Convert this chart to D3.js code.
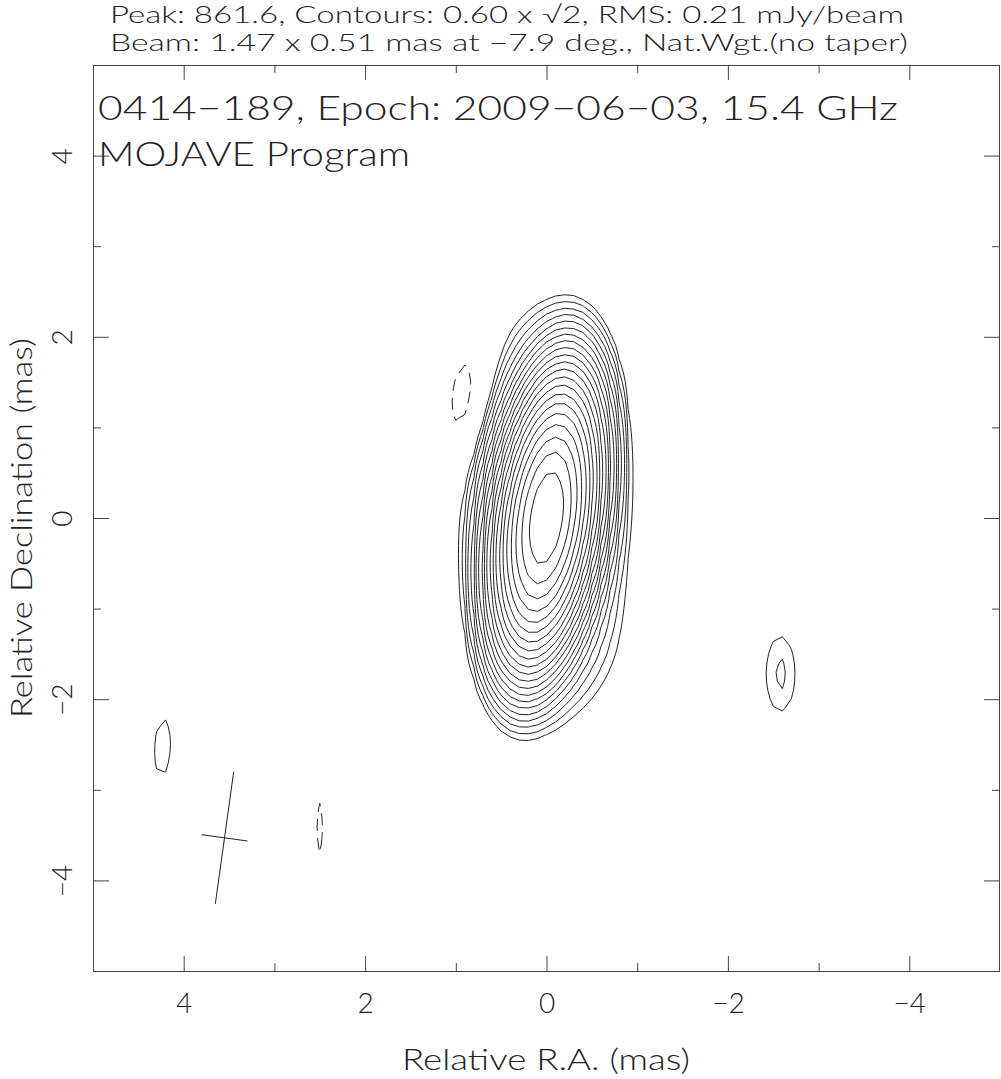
<!DOCTYPE html>
<html><head><meta charset="utf-8">
<script src="https://cdn.jsdelivr.net/npm/d3@7"></script>
<style>
html,body{margin:0;padding:0;background:#fff;}
svg text{font-family:"Lato","Roboto","DejaVu Sans",sans-serif;font-weight:300;fill:#222;}
</style></head><body>
<svg id="chart" width="1001" height="1079"></svg>
<script>
// ---------- data ----------
const raTicksMajor  = [4, 2, 0, -2, -4];
const raTicksMinor  = [3, 1, -1, -3];
const decTicksMajor = [4, 2, 0, -2, -4];
const decTicksMinor = [3, 1, -1, -3];
const peakFlux = 861.6, contourBase = 0.60, contourStep = Math.SQRT2;
const beamMaj = 1.47, beamMin = 0.51, beamPA = -7.9;
const beamCenter = [3.55, -3.53];
// image-plane elliptical Gaussian components (mJy/beam, mas, deg)
const compRA   = [0.00, 0.02, -0.40, 0.10, 4.23, -2.58, 2.50, 0.88];
const compDec  = [0.00, 0.00, -1.60, 1.90, -2.53, -1.72, -3.42, 1.30];
const compPeak = [853, 8.0, 0.35, 0.30, 0.70, 0.915, -0.65, -1.0];
const compMaj  = [1.47, 2.2, 1.3, 1.0, 1.31, 1.06, 1.62, 1.3];
const compMin  = [0.51, 0.95, 0.9, 0.6, 0.40, 0.41, 0.30, 0.48];
const compPA   = [-7.9, 0, -35, -20, -3, 0, 0, -6];
const titleLines = ["Peak: 861.6, Contours: 0.60 x \u221A2, RMS: 0.21 mJy/beam",
                    "Beam: 1.47 x 0.51 mas at \u22127.9 deg., Nat.Wgt.(no taper)"];
const plotLabels = ["0414\u2212189, Epoch: 2009\u221206\u221203, 15.4 GHz", "MOJAVE Program"];
const xTitle = "Relative R.A. (mas)", yTitle = "Relative Declination (mas)";

// ---------- layout ----------
const svg = d3.select("#chart");
svg.append("rect").attr("width",1001).attr("height",1079).attr("fill","#fff");
const x = d3.scaleLinear().domain([5,-5]).range([93,1000]);
const y = d3.scaleLinear().domain([5,-5]).range([65,971]);

// ---------- model grid (0.1 mas map pixels) ----------
const step = 0.1, n = Math.round(10/step)+1;
const values = new Float64Array(n*n);
const rad = Math.PI/180;
for (let j=0;j<n;j++){
  const dec = 5 - j*step;
  for (let i=0;i<n;i++){
    const ra = 5 - i*step;
    let v = 0;
    for (let k=0;k<compRA.length;k++){
      const dE = ra-compRA[k], dN = dec-compDec[k];
      const s = Math.sin(compPA[k]*rad), c = Math.cos(compPA[k]*rad);
      const a = dE*s + dN*c, b = dE*c - dN*s;
      const q = Math.pow(2*a/compMaj[k],2)+Math.pow(2*b/compMin[k],2);
      if (q < 60) v += compPeak[k]*Math.pow(2,-q);
    }
    values[j*n+i] = v;
  }
}
const levels = [];
for (let l=contourBase; l<=peakFlux; l*=contourStep) levels.push(l);

const proj = d3.geoTransform({point(px,py){
  this.stream.point(x(5-(px-0.5)*step), y(5-(py-0.5)*step));
}});
const path = d3.geoPath(proj);
const plot = svg.append("g");
plot.selectAll("path.pos").data(d3.contours().size([n,n]).thresholds(levels)(values))
  .join("path").attr("class","pos").attr("d",path)
  .attr("fill","none").attr("stroke","#222").attr("stroke-width",1).attr("stroke-linejoin","round");
const neg = Array.from(values, v=>-v);
plot.selectAll("path.neg").data(d3.contours().size([n,n]).thresholds([contourBase])(neg))
  .join("path").attr("class","neg").attr("d",path)
  .attr("fill","none").attr("stroke","#222").attr("stroke-width",1).attr("stroke-dasharray","12,7");

// beam cross
const bs = Math.sin(beamPA*rad), bc = Math.cos(beamPA*rad);
const beamLines = [
  [[beamCenter[0]+beamMaj/2*bs, beamCenter[1]+beamMaj/2*bc],[beamCenter[0]-beamMaj/2*bs, beamCenter[1]-beamMaj/2*bc]],
  [[beamCenter[0]+beamMin/2*bc, beamCenter[1]-beamMin/2*bs],[beamCenter[0]-beamMin/2*bc, beamCenter[1]+beamMin/2*bs]]
];
plot.selectAll("line.beam").data(beamLines).join("line").attr("class","beam")
  .attr("x1",d=>x(d[0][0])).attr("y1",d=>y(d[0][1]))
  .attr("x2",d=>x(d[1][0])).attr("y2",d=>y(d[1][1]))
  .attr("stroke","#222").attr("stroke-width",1);

// ---------- axes ----------
function styleAxis(g){ g.attr("color","#444").attr("font-family",null).attr("font-size",28); g.select(".domain").remove(); }
const X0=93, X1=1000, Y0=65, Y1=971;
svg.append("g").attr("transform",`translate(0,${Y1})`)
  .call(d3.axisBottom(x).tickValues(raTicksMajor).tickSizeInner(-15).tickSizeOuter(0).tickPadding(22)).call(styleAxis);
svg.append("g").attr("transform",`translate(0,${Y1})`)
  .call(d3.axisBottom(x).tickValues(raTicksMinor).tickSizeInner(-8).tickSizeOuter(0).tickFormat("")).call(styleAxis);
svg.append("g").attr("transform",`translate(0,${Y0})`)
  .call(d3.axisTop(x).tickValues(raTicksMajor).tickSizeInner(-15).tickSizeOuter(0).tickFormat("")).call(styleAxis);
svg.append("g").attr("transform",`translate(0,${Y0})`)
  .call(d3.axisTop(x).tickValues(raTicksMinor).tickSizeInner(-8).tickSizeOuter(0).tickFormat("")).call(styleAxis);
const gL = svg.append("g").attr("transform",`translate(${X0},0)`)
  .call(d3.axisLeft(y).tickValues(decTicksMajor).tickSizeInner(-16).tickSizeOuter(0)).call(styleAxis);
gL.selectAll("text").attr("transform","rotate(-90)").attr("x",0).attr("y",-21).attr("dy",0).attr("text-anchor","middle");
svg.append("g").attr("transform",`translate(${X0},0)`)
  .call(d3.axisLeft(y).tickValues(decTicksMinor).tickSizeInner(-8).tickSizeOuter(0).tickFormat("")).call(styleAxis);
svg.append("g").attr("transform",`translate(${X1},0)`)
  .call(d3.axisRight(y).tickValues(decTicksMajor).tickSizeInner(-16).tickSizeOuter(0).tickFormat("")).call(styleAxis);
svg.append("g").attr("transform",`translate(${X1},0)`)
  .call(d3.axisRight(y).tickValues(decTicksMinor).tickSizeInner(-8).tickSizeOuter(0).tickFormat("")).call(styleAxis);
svg.append("rect").attr("x",X0+0.5).attr("y",Y0+0.5).attr("width",X1-X0-1).attr("height",Y1-Y0)
  .attr("fill","none").attr("stroke","#444").attr("stroke-width",1);

// ---------- texts ----------
svg.append("text").attr("x",110).attr("y",23).attr("font-size",23).attr("textLength",794).attr("lengthAdjust","spacingAndGlyphs").text(titleLines[0]);
svg.append("text").attr("x",110).attr("y",51).attr("font-size",23).attr("textLength",798).attr("lengthAdjust","spacingAndGlyphs").text(titleLines[1]);
svg.append("text").attr("x",98).attr("y",120).attr("font-size",34).attr("textLength",800).attr("lengthAdjust","spacingAndGlyphs").text(plotLabels[0]);
svg.append("text").attr("x",98).attr("y",166).attr("font-size",34).attr("textLength",312).attr("lengthAdjust","spacingAndGlyphs").text(plotLabels[1]);
svg.append("text").attr("x",546).attr("y",1070).attr("font-size",30).attr("text-anchor","middle").attr("textLength",288).attr("lengthAdjust","spacingAndGlyphs").text(xTitle);
svg.append("text").attr("transform","translate(32,528) rotate(-90)").attr("font-size",30).attr("text-anchor","middle").attr("textLength",380).attr("lengthAdjust","spacingAndGlyphs").text(yTitle);
</script></body></html>
